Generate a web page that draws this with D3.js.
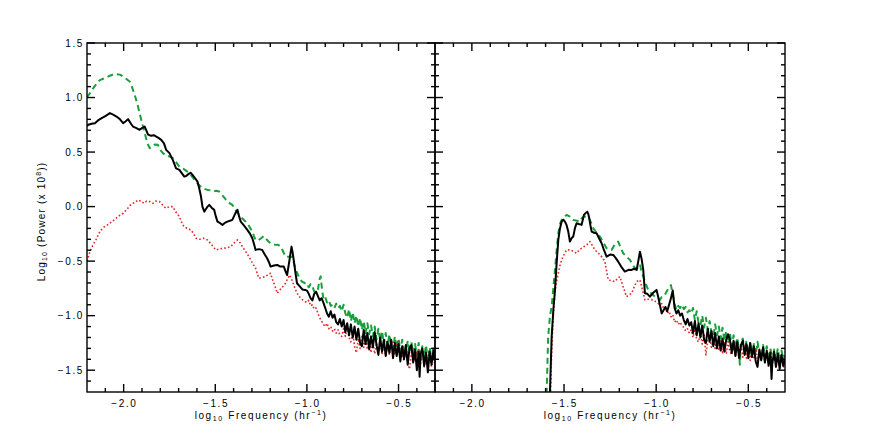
<!DOCTYPE html>
<html>
<head>
<meta charset="utf-8">
<script src="https://cdn.jsdelivr.net/npm/d3@7"></script>
<style>
html,body{margin:0;padding:0;background:#fff;}
svg{display:block;}
text{font-family:"Liberation Sans",Arial,sans-serif;fill:#000;}
</style>
</head>
<body>
<svg id="chart" width="872" height="436"></svg>
<script>
// ---------- data (log10 frequency, log10 power) ----------
const xMajorTicks = [-2.0, -1.5, -1.0, -0.5];
const xTickLabels = ["\u22122.0", "\u22121.5", "\u22121.0", "\u22120.5"];
const yMajorTicks = [-1.5, -1.0, -0.5, 0.0, 0.5, 1.0, 1.5];
const yTickLabels = ["\u22121.5", "\u22121.0", "\u22120.5", "0.0", "0.5", "1.0", "1.5"];
const xMinorTicks = [-2.1, -1.9, -1.8, -1.7, -1.6, -1.4, -1.3, -1.2, -1.1, -0.9, -0.8, -0.7, -0.6, -0.4];
const yMinorTicks = [-1.6, -1.4, -1.3, -1.2, -1.1, -0.9, -0.8, -0.7, -0.6, -0.4, -0.3, -0.2, -0.1,
                     0.1, 0.2, 0.3, 0.4, 0.6, 0.7, 0.8, 0.9, 1.1, 1.2, 1.3, 1.4];

const leftBlack = [
[-2.2,0.74],[-2.193,0.75],[-2.175,0.76],[-2.157,0.765],[-2.14,0.79],[-2.12,0.811],[-2.1,0.83],[-2.075,0.857],[-2.06,0.845],[-2.039,0.826],
[-2.02,0.80],[-2.003,0.765],[-1.99,0.78],[-1.976,0.802],[-1.96,0.76],[-1.949,0.734],[-1.93,0.72],[-1.913,0.704],[-1.9,0.72],[-1.885,0.734],
[-1.867,0.66],[-1.85,0.65],[-1.835,0.655],[-1.822,0.642],[-1.81,0.63],[-1.795,0.612],[-1.78,0.58],[-1.768,0.52],[-1.75,0.49],[-1.732,0.428],
[-1.714,0.35],[-1.696,0.337],[-1.68,0.30],[-1.669,0.275],[-1.659,0.28],[-1.645,0.30],[-1.635,0.31],[-1.624,0.291],[-1.61,0.26],[-1.597,0.229],
[-1.588,0.17],[-1.578,0.092],[-1.57,0.0],[-1.56,-0.046],[-1.55,-0.02],[-1.542,0.0],[-1.533,0.016],[-1.52,-0.01],[-1.506,-0.03],[-1.497,-0.09],
[-1.488,-0.138],[-1.475,-0.15],[-1.461,-0.168],[-1.448,-0.15],[-1.434,-0.138],[-1.42,-0.13],[-1.407,-0.122],[-1.39,-0.06],[-1.379,-0.03],[-1.37,-0.09],
[-1.361,-0.138],[-1.345,-0.17],[-1.325,-0.214],[-1.31,-0.25],[-1.298,-0.29],[-1.289,-0.34],[-1.28,-0.397],[-1.262,-0.39],[-1.244,-0.397],[-1.23,-0.44],
[-1.217,-0.474],[-1.207,-0.51],[-1.198,-0.55],[-1.18,-0.54],[-1.162,-0.535],[-1.145,-0.55],[-1.126,-0.55],[-1.115,-0.60],[-1.108,-0.627],[-1.096,-0.50],
[-1.084,-0.367],[-1.078,-0.42],[-1.072,-0.489],[-1.063,-0.60],[-1.054,-0.703],[-1.04,-0.73],[-1.025,-0.76],[-1.009,-0.764],
[-1.00,-0.77],[-0.99,-0.80],[-0.98,-0.84],[-0.97,-0.86],[-0.96,-0.80],[-0.95,-0.78],[-0.94,-0.82],[-0.93,-0.86],[-0.92,-0.84],[-0.91,-0.88],
[-0.90,-0.93],[-0.89,-0.98],[-0.88,-1.01],[-0.87,-0.96],[-0.86,-1.02],[-0.85,-0.99],[-0.84,-1.06],[-0.83,-1.08],[-0.82,-1.03],[-0.81,-1.10],
[-0.80,-1.04],[-0.79,-1.15],[-0.78,-1.07],[-0.77,-1.18],[-0.76,-1.08],[-0.75,-1.20],[-0.74,-1.10],[-0.73,-1.22],[-0.72,-1.12],[-0.71,-1.25],
[-0.70,-1.28],[-0.69,-1.13],[-0.68,-1.26],[-0.67,-1.16],[-0.66,-1.31],[-0.65,-1.19],[-0.64,-1.29],[-0.63,-1.15],[-0.62,-1.27],[-0.61,-1.36],
[-0.60,-1.20],[-0.59,-1.33],[-0.58,-1.22],[-0.57,-1.37],[-0.56,-1.24],[-0.55,-1.34],[-0.54,-1.22],[-0.53,-1.39],[-0.52,-1.25],[-0.51,-1.37],
[-0.50,-1.26],[-0.49,-1.42],[-0.48,-1.28],[-0.47,-1.40],[-0.46,-1.27],[-0.45,-1.45],[-0.44,-1.30],[-0.43,-1.27],[-0.42,-1.43],[-0.41,-1.31],
[-0.40,-1.50],[-0.39,-1.33],[-0.385,-1.56],[-0.38,-1.36],[-0.37,-1.30],[-0.36,-1.46],[-0.35,-1.34],[-0.34,-1.52],[-0.33,-1.33],[-0.32,-1.45],
[-0.31,-1.32],[-0.301,-1.42]
];

const leftGreen = [
[-2.2,1.0],[-2.18,1.05],[-2.16,1.10],[-2.13,1.16],[-2.10,1.18],[-2.075,1.20],[-2.048,1.217],[-2.02,1.21],[-2.0,1.19],[-1.985,1.17],
[-1.967,1.147],[-1.955,1.10],[-1.94,1.025],[-1.925,0.94],[-1.913,0.857],[-1.9,0.77],[-1.885,0.673],[-1.87,0.58],[-1.858,0.536],[-1.845,0.55],
[-1.83,0.57],[-1.813,0.566],[-1.8,0.52],[-1.786,0.49],[-1.77,0.47],[-1.75,0.46],[-1.732,0.444],[-1.715,0.41],[-1.696,0.367],[-1.678,0.352],
[-1.66,0.33],[-1.641,0.306],[-1.62,0.26],[-1.605,0.229],[-1.59,0.20],[-1.57,0.17],[-1.555,0.16],[-1.542,0.153],[-1.525,0.15],[-1.51,0.14],
[-1.495,0.145],[-1.479,0.138],[-1.46,0.10],[-1.445,0.07],[-1.434,0.046],[-1.42,0.03],[-1.407,0.016],[-1.39,-0.03],[-1.37,-0.076],[-1.352,-0.11],
[-1.334,-0.138],[-1.315,-0.18],[-1.298,-0.229],[-1.289,-0.27],[-1.28,-0.306],[-1.265,-0.31],[-1.25,-0.29],[-1.235,-0.27],[-1.225,-0.29],[-1.21,-0.32],
[-1.195,-0.34],[-1.171,-0.351],[-1.157,-0.35],[-1.144,-0.367],[-1.13,-0.41],[-1.117,-0.459],[-1.1,-0.46],[-1.081,-0.459],[-1.072,-0.51],[-1.063,-0.57],
[-1.045,-0.64],[-1.027,-0.688],[-1.009,-0.703],
[-1.00,-0.70],[-0.99,-0.74],[-0.98,-0.71],[-0.97,-0.73],[-0.96,-0.78],[-0.95,-0.79],[-0.94,-0.76],[-0.93,-0.66],[-0.925,-0.64],[-0.92,-0.72],
[-0.91,-0.85],[-0.90,-0.83],[-0.89,-0.88],[-0.88,-0.86],[-0.87,-0.91],[-0.86,-0.90],[-0.85,-0.93],[-0.84,-0.89],[-0.83,-0.93],[-0.82,-0.91],
[-0.81,-0.96],[-0.80,-0.90],[-0.79,-0.98],[-0.78,-1.02],[-0.77,-0.94],[-0.76,-1.05],[-0.75,-0.97],[-0.74,-1.07],[-0.73,-1.00],[-0.72,-1.10],
[-0.71,-1.02],[-0.70,-1.13],[-0.69,-1.05],[-0.68,-1.16],[-0.67,-1.07],[-0.66,-1.17],[-0.65,-1.09],[-0.64,-1.19],[-0.63,-1.10],[-0.62,-1.22],
[-0.61,-1.12],[-0.60,-1.23],[-0.59,-1.14],[-0.58,-1.26],[-0.57,-1.16],[-0.56,-1.28],[-0.55,-1.17],[-0.54,-1.27],[-0.53,-1.31],[-0.52,-1.19],
[-0.51,-1.30],[-0.50,-1.21],[-0.49,-1.33],[-0.48,-1.22],[-0.47,-1.32],[-0.46,-1.37],[-0.45,-1.23],[-0.44,-1.34],[-0.43,-1.24],[-0.42,-1.39],
[-0.41,-1.26],[-0.40,-1.36],[-0.39,-1.25],[-0.38,-1.41],[-0.37,-1.28],[-0.36,-1.38],[-0.35,-1.27],[-0.34,-1.42],[-0.33,-1.29],[-0.32,-1.40],
[-0.31,-1.30],[-0.301,-1.38]
];

const leftRed = [
[-2.2,-0.50],[-2.185,-0.42],[-2.17,-0.36],[-2.15,-0.30],[-2.13,-0.229],[-2.11,-0.19],[-2.09,-0.17],[-2.075,-0.152],[-2.05,-0.12],[-2.03,-0.09],
[-2.003,-0.061],[-1.98,-0.02],[-1.965,0.01],[-1.949,0.031],[-1.935,0.04],[-1.922,0.061],[-1.905,0.05],[-1.89,0.03],[-1.875,0.05],[-1.858,0.046],
[-1.84,0.03],[-1.825,0.05],[-1.804,0.046],[-1.79,0.02],[-1.78,0.0],[-1.768,-0.015],[-1.75,0.0],[-1.732,0.0],[-1.715,-0.05],[-1.696,-0.092],
[-1.678,-0.168],[-1.655,-0.20],[-1.632,-0.214],[-1.615,-0.26],[-1.605,-0.29],[-1.585,-0.30],[-1.565,-0.29],[-1.542,-0.306],[-1.52,-0.35],[-1.497,-0.397],
[-1.48,-0.39],[-1.461,-0.382],[-1.44,-0.38],[-1.415,-0.367],[-1.395,-0.33],[-1.379,-0.306],[-1.365,-0.33],[-1.352,-0.367],[-1.335,-0.41],[-1.316,-0.459],
[-1.3,-0.51],[-1.28,-0.565],[-1.27,-0.62],[-1.262,-0.657],[-1.245,-0.65],[-1.225,-0.642],[-1.21,-0.62],[-1.198,-0.611],[-1.19,-0.66],[-1.18,-0.703],
[-1.17,-0.75],[-1.162,-0.795],[-1.15,-0.77],[-1.135,-0.74],[-1.117,-0.703],[-1.105,-0.66],[-1.094,-0.627],[-1.08,-0.68],[-1.063,-0.76],[-1.045,-0.82],
[-1.027,-0.85],[-1.01,-0.87],
[-1.00,-0.88],[-0.99,-0.86],[-0.98,-0.91],[-0.97,-0.90],[-0.96,-0.94],[-0.95,-0.93],[-0.94,-0.98],[-0.93,-1.02],[-0.92,-1.05],[-0.91,-1.08],
[-0.90,-1.10],[-0.89,-1.07],[-0.88,-1.12],[-0.87,-1.10],[-0.86,-1.14],[-0.85,-1.12],[-0.84,-1.16],[-0.83,-1.13],[-0.82,-1.18],[-0.81,-1.19],
[-0.80,-1.12],[-0.79,-1.19],[-0.78,-1.10],[-0.77,-1.20],[-0.76,-1.24],[-0.75,-1.16],[-0.74,-1.28],[-0.73,-1.34],[-0.72,-1.21],[-0.71,-1.30],
[-0.70,-1.19],[-0.69,-1.29],[-0.68,-1.19],[-0.67,-1.31],[-0.66,-1.22],[-0.65,-1.34],[-0.64,-1.24],[-0.63,-1.35],[-0.62,-1.25],[-0.61,-1.33],
[-0.60,-1.23],[-0.59,-1.36],[-0.58,-1.26],[-0.57,-1.37],[-0.56,-1.27],[-0.55,-1.36],[-0.54,-1.26],[-0.53,-1.24],[-0.52,-1.36],[-0.51,-1.25],
[-0.50,-1.22],[-0.49,-1.34],[-0.48,-1.37],[-0.47,-1.41],[-0.46,-1.29],[-0.45,-1.43],[-0.44,-1.49],[-0.43,-1.34],[-0.42,-1.30],[-0.41,-1.42],
[-0.40,-1.32],[-0.39,-1.31],[-0.38,-1.44],[-0.37,-1.33],[-0.36,-1.47],[-0.35,-1.35],[-0.34,-1.45],[-0.33,-1.36],[-0.32,-1.47],[-0.31,-1.37],
[-0.301,-1.46]
];

const rightBlack = [
[-1.58,-1.9],[-1.567,-1.19],[-1.558,-0.95],[-1.549,-0.764],[-1.54,-0.52],[-1.531,-0.306],[-1.522,-0.2],[-1.513,-0.138],[-1.504,-0.12],[-1.495,-0.138],
[-1.486,-0.17],[-1.477,-0.229],[-1.468,-0.321],[-1.459,-0.29],[-1.45,-0.275],[-1.441,-0.20],[-1.432,-0.153],[-1.42,-0.16],[-1.405,-0.168],[-1.398,-0.12],
[-1.392,-0.076],[-1.383,-0.06],[-1.374,-0.046],[-1.368,-0.07],[-1.363,-0.107],[-1.357,-0.17],[-1.35,-0.229],[-1.337,-0.24],[-1.323,-0.245],[-1.31,-0.29],
[-1.296,-0.336],[-1.283,-0.40],[-1.269,-0.459],[-1.25,-0.44],[-1.233,-0.443],[-1.22,-0.47],[-1.206,-0.505],[-1.19,-0.55],[-1.17,-0.596],[-1.15,-0.58],
[-1.133,-0.581],[-1.12,-0.57],[-1.106,-0.581],[-1.097,-0.5],[-1.088,-0.413],[-1.079,-0.48],[-1.07,-0.581],[-1.061,-0.795],[-1.048,-0.80],[-1.034,-0.826],
[-1.016,-0.79],[-0.998,-0.764],
[-0.99,-0.82],[-0.98,-0.90],[-0.97,-0.98],[-0.96,-0.95],[-0.95,-0.92],[-0.94,-0.96],[-0.93,-0.90],[-0.92,-0.84],[-0.91,-0.77],[-0.90,-0.93],
[-0.89,-0.98],[-0.88,-0.95],[-0.87,-1.00],[-0.86,-0.98],[-0.85,-1.04],[-0.84,-1.08],[-0.83,-1.03],[-0.82,-1.09],[-0.81,-1.06],[-0.80,-1.16],
[-0.79,-1.05],[-0.78,-1.18],[-0.77,-1.07],[-0.76,-1.20],[-0.75,-1.09],[-0.74,-1.22],[-0.73,-1.25],[-0.72,-1.12],[-0.71,-1.24],[-0.70,-1.14],
[-0.69,-1.28],[-0.68,-1.16],[-0.67,-1.30],[-0.66,-1.19],[-0.65,-1.32],[-0.64,-1.21],[-0.63,-1.33],[-0.62,-1.22],[-0.61,-1.17],[-0.60,-1.22],
[-0.59,-1.34],[-0.58,-1.23],[-0.57,-1.37],[-0.56,-1.24],[-0.55,-1.39],[-0.54,-1.27],[-0.53,-1.23],[-0.52,-1.36],[-0.51,-1.26],[-0.50,-1.39],
[-0.49,-1.25],[-0.48,-1.38],[-0.47,-1.28],[-0.46,-1.42],[-0.45,-1.47],[-0.44,-1.31],[-0.43,-1.41],[-0.42,-1.29],[-0.41,-1.43],[-0.40,-1.32],
[-0.39,-1.46],[-0.38,-1.34],[-0.374,-1.58],[-0.37,-1.44],[-0.36,-1.33],[-0.35,-1.47],[-0.34,-1.35],[-0.33,-1.49],[-0.32,-1.36],[-0.31,-1.46],
[-0.301,-1.40]
];

const rightGreen = [
[-1.597,-1.9],[-1.594,-1.7],[-1.586,-1.193],[-1.576,-1.0],[-1.567,-0.917],[-1.558,-0.75],[-1.549,-0.581],[-1.54,-0.40],[-1.531,-0.245],[-1.522,-0.16],
[-1.513,-0.122],[-1.5,-0.10],[-1.486,-0.076],[-1.47,-0.09],[-1.45,-0.122],[-1.43,-0.13],[-1.414,-0.138],[-1.405,-0.11],[-1.396,-0.092],[-1.38,-0.09],
[-1.369,-0.092],[-1.355,-0.14],[-1.341,-0.199],[-1.323,-0.24],[-1.305,-0.275],[-1.287,-0.33],[-1.269,-0.382],[-1.255,-0.39],[-1.242,-0.397],[-1.225,-0.35],
[-1.206,-0.321],[-1.192,-0.38],[-1.179,-0.428],[-1.16,-0.46],[-1.142,-0.489],[-1.128,-0.53],[-1.115,-0.565],[-1.1,-0.56],[-1.088,-0.53],[-1.079,-0.6],
[-1.07,-0.642],[-1.056,-0.71],[-1.043,-0.764],[-1.025,-0.80],[-1.007,-0.826],
[-0.99,-0.84],[-0.98,-0.856],[-0.97,-0.83],[-0.96,-0.826],[-0.95,-0.80],[-0.94,-0.77],[-0.93,-0.74],[-0.92,-0.72],[-0.91,-0.80],[-0.90,-0.89],
[-0.89,-0.948],[-0.88,-0.91],[-0.87,-0.93],[-0.86,-0.90],[-0.85,-0.94],[-0.84,-0.92],[-0.83,-0.97],[-0.82,-0.95],[-0.81,-0.98],[-0.80,-0.93],
[-0.79,-1.04],[-0.78,-0.96],[-0.77,-1.07],[-0.76,-1.09],[-0.75,-1.00],[-0.74,-1.11],[-0.73,-1.02],[-0.72,-1.13],[-0.71,-1.05],[-0.70,-1.16],
[-0.69,-1.19],[-0.68,-1.08],[-0.67,-1.18],[-0.66,-1.10],[-0.65,-1.21],[-0.64,-1.11],[-0.63,-1.23],[-0.62,-1.14],[-0.61,-1.25],[-0.60,-1.16],
[-0.59,-1.28],[-0.58,-1.18],[-0.57,-1.30],[-0.56,-1.20],[-0.55,-1.33],[-0.546,-1.45],[-0.54,-1.25],[-0.53,-1.21],[-0.52,-1.33],[-0.51,-1.23],
[-0.50,-1.35],[-0.49,-1.25],[-0.48,-1.37],[-0.47,-1.26],[-0.46,-1.36],[-0.45,-1.24],[-0.44,-1.35],[-0.43,-1.39],[-0.42,-1.27],[-0.41,-1.38],
[-0.40,-1.28],[-0.39,-1.41],[-0.38,-1.30],[-0.37,-1.42],[-0.36,-1.31],[-0.35,-1.40],[-0.34,-1.30],[-0.33,-1.42],[-0.32,-1.32],[-0.31,-1.41],
[-0.301,-1.34]
];

const rightRed = [
[-1.575,-1.9],[-1.57,-1.5],[-1.565,-1.25],[-1.558,-1.0],[-1.549,-0.78],[-1.54,-0.68],[-1.531,-0.611],[-1.522,-0.54],[-1.513,-0.489],[-1.5,-0.44],
[-1.486,-0.397],[-1.468,-0.397],[-1.45,-0.41],[-1.432,-0.428],[-1.418,-0.40],[-1.405,-0.382],[-1.39,-0.365],[-1.378,-0.351],[-1.368,-0.34],[-1.359,-0.321],
[-1.345,-0.36],[-1.332,-0.397],[-1.318,-0.42],[-1.305,-0.443],[-1.29,-0.47],[-1.278,-0.505],[-1.268,-0.60],[-1.26,-0.673],[-1.24,-0.68],[-1.224,-0.688],
[-1.21,-0.66],[-1.197,-0.642],[-1.18,-0.73],[-1.161,-0.826],[-1.147,-0.81],[-1.133,-0.795],[-1.12,-0.74],[-1.106,-0.688],[-1.088,-0.673],[-1.075,-0.76],
[-1.061,-0.856],[-1.04,-0.85],[-1.016,-0.856],[-0.995,-0.88],
[-0.98,-0.90],[-0.97,-0.89],[-0.96,-0.93],[-0.95,-0.92],[-0.94,-0.98],[-0.93,-0.96],[-0.92,-1.01],[-0.91,-0.99],[-0.90,-1.06],[-0.89,-1.04],
[-0.88,-1.08],[-0.87,-1.06],[-0.86,-1.09],[-0.85,-1.11],[-0.84,-1.14],[-0.83,-1.12],[-0.82,-1.16],[-0.81,-1.13],[-0.80,-1.20],[-0.79,-1.12],
[-0.78,-1.22],[-0.77,-1.24],[-0.76,-1.15],[-0.75,-1.26],[-0.74,-1.17],[-0.73,-1.36],[-0.72,-1.22],[-0.71,-1.19],[-0.70,-1.29],[-0.69,-1.21],
[-0.68,-1.30],[-0.67,-1.22],[-0.66,-1.32],[-0.65,-1.23],[-0.64,-1.34],[-0.63,-1.25],[-0.62,-1.35],[-0.61,-1.24],[-0.60,-1.33],[-0.59,-1.36],
[-0.58,-1.26],[-0.57,-1.37],[-0.56,-1.27],[-0.55,-1.35],[-0.54,-1.26],[-0.53,-1.38],[-0.52,-1.28],[-0.51,-1.39],[-0.50,-1.30],[-0.49,-1.41],
[-0.48,-1.31],[-0.47,-1.40],[-0.46,-1.30],[-0.45,-1.42],[-0.44,-1.32],[-0.43,-1.41],[-0.42,-1.31],[-0.41,-1.43],[-0.40,-1.33],[-0.39,-1.42],
[-0.38,-1.32],[-0.37,-1.44],[-0.36,-1.35],[-0.35,-1.46],[-0.34,-1.36],[-0.33,-1.45],[-0.32,-1.37],[-0.31,-1.48],[-0.301,-1.42]
];

// ---------- layout ----------
const svg = d3.select("#chart");
const plotTop = 43, plotBottom = 392;
const panels = [
  {x0: 87, x1: 435, series: [leftGreen, leftRed, leftBlack], yLabels: true},
  {x0: 435, x1: 785, series: [rightGreen, rightRed, rightBlack], yLabels: false}
];
const xDomain = [-2.2, -0.301];
const yDomain = [-1.7, 1.5];
const styles = [
  {stroke: "#17a03a", width: 2, dash: "6,4"},
  {stroke: "#e3262a", width: 1.6, dash: "1.6,2.2"},
  {stroke: "#000000", width: 2, dash: null}
];
const majorLen = 8, minorLen = 4;
const fontSize = 10;
const letterSp = 1.6;

panels.forEach((p, i) => {
  const x = d3.scaleLinear().domain(xDomain).range([p.x0, p.x1]);
  const y = d3.scaleLinear().domain(yDomain).range([plotBottom, plotTop]);
  const g = svg.append("g");
  const clipId = "clip" + i;
  svg.append("defs").append("clipPath").attr("id", clipId)
    .append("rect").attr("x", p.x0).attr("y", plotTop).attr("width", p.x1 - p.x0).attr("height", plotBottom - plotTop);

  const line = d3.line().x(d => x(d[0])).y(d => y(d[1]));
  const lg = g.append("g").attr("clip-path", `url(#${clipId})`);
  p.series.forEach((s, k) => {
    const st = styles[k];
    lg.append("path").datum(s).attr("d", line)
      .attr("fill", "none").attr("stroke", st.stroke).attr("stroke-width", st.width)
      .attr("stroke-linejoin", "round")
      .attr("stroke-dasharray", st.dash);
  });

  // frame
  const ax = g.append("g").attr("stroke", "#000").attr("stroke-width", 1.4).attr("fill", "none");
  ax.append("rect").attr("x", p.x0).attr("y", plotTop).attr("width", p.x1 - p.x0).attr("height", plotBottom - plotTop);

  // x ticks (bottom + top), inward
  const xt = xMajorTicks.map(v => ({v, len: majorLen})).concat(xMinorTicks.map(v => ({v, len: minorLen})));
  xt.forEach(t => {
    const px = x(t.v);
    ax.append("line").attr("x1", px).attr("x2", px).attr("y1", plotBottom).attr("y2", plotBottom - t.len);
    ax.append("line").attr("x1", px).attr("x2", px).attr("y1", plotTop).attr("y2", plotTop + t.len);
  });
  // y ticks (left + right), inward
  const yt = yMajorTicks.map(v => ({v, len: majorLen})).concat(yMinorTicks.map(v => ({v, len: minorLen})));
  yt.forEach(t => {
    const py = y(t.v);
    ax.append("line").attr("x1", p.x0).attr("x2", p.x0 + t.len).attr("y1", py).attr("y2", py);
    ax.append("line").attr("x1", p.x1).attr("x2", p.x1 - t.len).attr("y1", py).attr("y2", py);
  });

  // x tick labels
  xMajorTicks.forEach((v, j) => {
    g.append("text").attr("x", x(v) + letterSp / 2).attr("y", 407)
      .attr("text-anchor", "middle").attr("font-size", fontSize).attr("letter-spacing", letterSp)
      .text(xTickLabels[j]);
  });
  // x title
  const xt2 = g.append("text").attr("x", (p.x0 + p.x1) / 2).attr("y", 419)
    .attr("text-anchor", "middle").attr("font-size", fontSize).attr("letter-spacing", letterSp);
  xt2.append("tspan").text("log");
  xt2.append("tspan").attr("font-size", 7).attr("dy", 2).text("10");
  xt2.append("tspan").attr("dy", -2).text(" Frequency (hr");
  xt2.append("tspan").attr("font-size", 7).attr("dy", -4).text("\u22121");
  xt2.append("tspan").attr("dy", 4).text(")");

  if (p.yLabels) {
    yMajorTicks.forEach((v, j) => {
      g.append("text").attr("x", p.x0 - 3).attr("y", y(v) + 3.5)
        .attr("text-anchor", "end").attr("font-size", fontSize).attr("letter-spacing", letterSp)
        .text(yTickLabels[j]);
    });
    const yt2 = g.append("text").attr("transform", `translate(45,${(plotTop + plotBottom) / 2 + 4}) rotate(-90)`)
      .attr("text-anchor", "middle").attr("font-size", fontSize).attr("letter-spacing", 1.2);
    yt2.append("tspan").text("Log");
    yt2.append("tspan").attr("font-size", 7).attr("dy", 2).text("10");
    yt2.append("tspan").attr("dy", -2).text(" (Power (x 10");
    yt2.append("tspan").attr("font-size", 7).attr("dy", -4).text("8");
    yt2.append("tspan").attr("dy", 4).text("))");
  }
});
</script>
</body>
</html>
